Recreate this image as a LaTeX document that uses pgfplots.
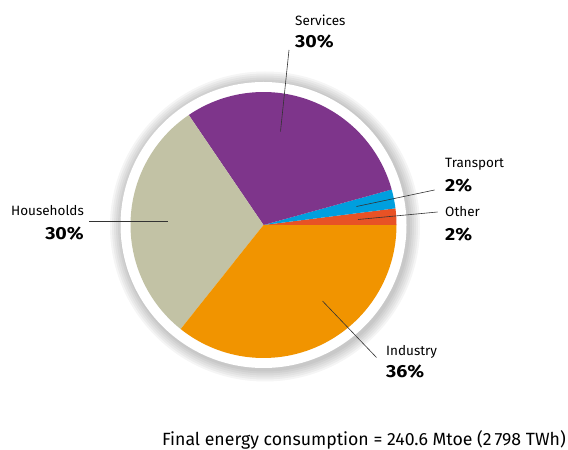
\documentclass[border=0pt]{standalone}
\usepackage{pgfplots}
\pgfplotsset{compat=1.18}
\usepackage{fontspec}
\setmainfont{Fira Sans}
\definecolor{cOther}{RGB}{232,82,37}
\definecolor{cTransport}{RGB}{0,159,222}
\definecolor{cServices}{RGB}{126,53,139}
\definecolor{cHouse}{RGB}{194,194,165}
\definecolor{cIndustry}{RGB}{241,148,0}
% shares in percent, counter-clockwise from east
\def\vOther{2.0}
\def\vTransport{2.3}
\def\vServices{30.2}
\def\vHouse{29.8}
\def\vIndustry{35.7}
\pgfmathsetmacro\aA{0}
\pgfmathsetmacro\aB{\aA+3.6*\vOther}
\pgfmathsetmacro\aC{\aB+3.6*\vTransport}
\pgfmathsetmacro\aD{\aC+3.6*\vServices}
\pgfmathsetmacro\aE{\aD+3.6*\vHouse}
\pgfmathsetmacro\aF{\aE+3.6*\vIndustry}
\def\cx{263.5}
\def\cy{225}
\def\RR{133}
\tikzset{lab/.style={inner sep=0pt, font=\fontsize{13.5}{15}\selectfont},
         pct/.style={inner sep=0pt, xscale=1.12, font=\fontsize{17.5}{19}\selectfont\bfseries}}
\begin{document}
\begin{tikzpicture}
\begin{axis}[scale only axis, width=568pt, height=450pt,
  xmin=0, xmax=568, ymin=0, ymax=450, hide axis, clip=false]
\path (axis cs:0,0) rectangle (axis cs:568,450);
% shadow and white ring
\pgfplotsinvokeforeach{155,153,151,149,147,145}{
  \fill[black, opacity=0.04] (axis cs:265,223.5) circle[radius=#1pt];
}
\fill[white] (axis cs:263.5,225) circle[radius=143pt];
% slices
\addplot[fill=cOther, draw=none, domain=\aA:\aB, samples=10, variable=\t]
  ({\cx+\RR*cos(t)},{\cy+\RR*sin(t)}) -- (axis cs:263.5,225) -- cycle;
\addplot[fill=cTransport, draw=none, domain=\aB:\aC, samples=10, variable=\t]
  ({\cx+\RR*cos(t)},{\cy+\RR*sin(t)}) -- (axis cs:263.5,225) -- cycle;
\addplot[fill=cServices, draw=none, domain=\aC:\aD, samples=60, variable=\t]
  ({\cx+\RR*cos(t)},{\cy+\RR*sin(t)}) -- (axis cs:263.5,225) -- cycle;
\addplot[fill=cHouse, draw=none, domain=\aD:\aE, samples=60, variable=\t]
  ({\cx+\RR*cos(t)},{\cy+\RR*sin(t)}) -- (axis cs:263.5,225) -- cycle;
\addplot[fill=cIndustry, draw=none, domain=\aE:\aF, samples=70, variable=\t]
  ({\cx+\RR*cos(t)},{\cy+\RR*sin(t)}) -- (axis cs:263.5,225) -- cycle;
% leader lines
\draw[black!80, line width=0.6pt] (axis cs:289,400) -- (axis cs:280.5,318.5);
\draw[black!80, line width=0.6pt] (axis cs:434.5,260) -- (axis cs:356.5,243.5);
\draw[black!80, line width=0.6pt] (axis cs:437.5,238) -- (axis cs:358,230.5);
\draw[black!80, line width=0.6pt] (axis cs:89,228.5) -- (axis cs:167.5,228.5);
\draw[black!80, line width=0.6pt] (axis cs:322.5,149) -- (axis cs:376.5,92.5);
% labels
\node[lab, anchor=base west] at (axis cs:295,424.3) {Services};
\node[pct, anchor=base west] at (axis cs:295,402.3) {30\%};
\node[lab, anchor=base west] at (axis cs:445,282.7) {Transport};
\node[pct, anchor=base west] at (axis cs:445,258.3) {2\%};
\node[lab, anchor=base west] at (axis cs:445,233.3) {Other};
\node[pct, anchor=base west] at (axis cs:445,209.3) {2\%};
\node[lab, anchor=base east] at (axis cs:84,234.3) {Households};
\node[pct, anchor=base east] at (axis cs:84,210) {30\%};
\node[lab, anchor=base west] at (axis cs:386,94.3) {Industry};
\node[pct, anchor=base west] at (axis cs:386,72.3) {36\%};
\node[inner sep=0pt, anchor=base east, font=\fontsize{17.7}{19}\selectfont] at (axis cs:566,4.5) {Final energy consumption = 240.6 Mtoe (2\,798 TWh)};
\end{axis}
\end{tikzpicture}
\end{document}
